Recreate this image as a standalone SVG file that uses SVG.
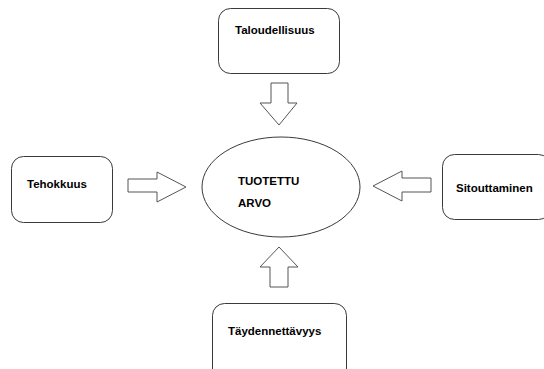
<svg xmlns="http://www.w3.org/2000/svg" width="544" height="369" viewBox="0 0 544 369">
  <style>
    .box { fill: #ffffff; stroke: #3a3a3a; stroke-width: 1; }
    .arrow { fill: #ffffff; stroke: #555555; stroke-width: 1; }
    .label { font-family: "Liberation Sans", Arial, sans-serif; font-weight: bold; font-size: 11.5px; fill: #000000; }
  </style>
  <rect width="544" height="369" fill="#ffffff"/>

  <g id="connectors">
    <!-- down arrow from top box -->
    <polygon class="arrow" points="271,83 288,83 288,103 297,103 279,125 260,103 271,103"/>
    <!-- right arrow from left box -->
    <polygon class="arrow" points="128,179 157,179 157,172 186,187 157,202 157,192 128,192"/>
    <!-- left arrow from right box -->
    <polygon class="arrow" points="431,178 402,178 402,171 373,186 402,201 402,192 431,192"/>
    <!-- up arrow from bottom box -->
    <polygon class="arrow" points="270,287 288,287 288,267 298,267 279,247 260,267 270,267"/>
  </g>

  <g id="node-center">
    <ellipse class="box" cx="281" cy="187" rx="79" ry="50"/>
    <text class="label" x="238" y="185">TUOTETTU</text>
    <text class="label" x="238" y="207">ARVO</text>
  </g>

  <g id="node-taloudellisuus">
    <rect class="box" x="218.5" y="8.5" width="121" height="65" rx="12"/>
    <text class="label" x="235" y="34">Taloudellisuus</text>
  </g>

  <g id="node-tehokkuus">
    <rect class="box" x="11.5" y="156.5" width="101" height="66" rx="12"/>
    <text class="label" x="27" y="188">Tehokkuus</text>
  </g>

  <g id="node-sitouttaminen">
    <rect class="box" x="442.5" y="154.5" width="108" height="65" rx="12"/>
    <text class="label" x="456" y="192">Sitouttaminen</text>
  </g>

  <g id="node-taydennettavyys">
    <rect class="box" x="212.5" y="303.5" width="134" height="80" rx="12"/>
    <text class="label" x="228" y="335">Täydennettävyys</text>
  </g>
</svg>
